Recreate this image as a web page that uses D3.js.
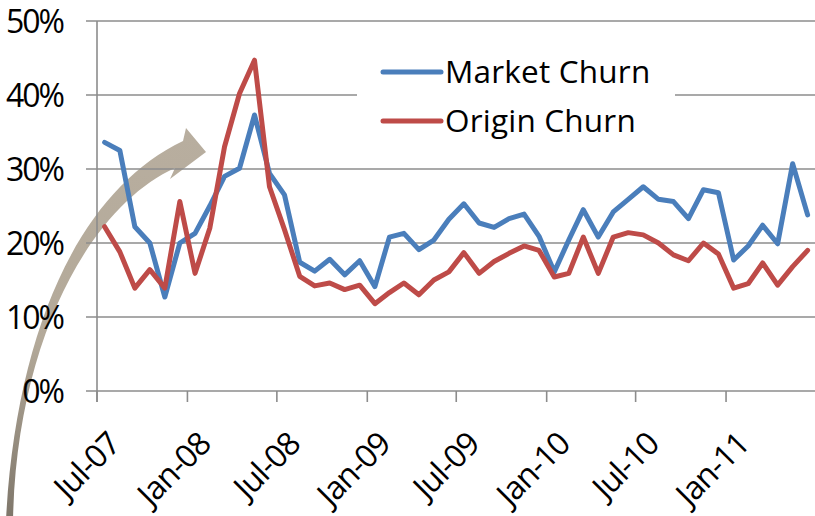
<!DOCTYPE html>
<html>
<head>
<meta charset="utf-8">
<script src="https://cdn.jsdelivr.net/npm/d3@7"></script>
<style>
  html, body { margin: 0; padding: 0; background: #fff; }
  svg { display: block; }
  text { font-family: "Open Sans", sans-serif; fill: #000; }
</style>
</head>
<body>
<svg id="chart" width="815" height="516"></svg>
<script>
// ---- Data ----
const months = [
  "2007-07","2007-08","2007-09","2007-10","2007-11","2007-12",
  "2008-01","2008-02","2008-03","2008-04","2008-05","2008-06",
  "2008-07","2008-08","2008-09","2008-10","2008-11","2008-12",
  "2009-01","2009-02","2009-03","2009-04","2009-05","2009-06",
  "2009-07","2009-08","2009-09","2009-10","2009-11","2009-12",
  "2010-01","2010-02","2010-03","2010-04","2010-05","2010-06",
  "2010-07","2010-08","2010-09","2010-10","2010-11","2010-12",
  "2011-01","2011-02","2011-03","2011-04","2011-05","2011-06"
];
const marketChurn = [33.6,32.5,22.2,20.0,12.7,20.0,21.3,25.0,29.0,30.1,37.3,29.4,
  26.5,17.4,16.2,17.8,15.7,17.6,14.1,20.8,21.3,19.1,20.4,23.2,
  25.3,22.7,22.1,23.3,23.9,20.9,16.1,20.4,24.5,20.8,24.2,25.9,
  27.6,25.9,25.6,23.3,27.2,26.8,17.7,19.6,22.4,19.9,30.7,23.8];
const originChurn = [22.2,18.8,13.9,16.4,13.9,25.6,15.9,22.0,33.0,40.2,44.7,27.6,
  21.8,15.5,14.2,14.6,13.7,14.3,11.8,13.3,14.6,13.0,15.0,16.1,
  18.7,15.9,17.5,18.6,19.6,19.0,15.4,15.9,20.8,15.9,20.8,21.4,
  21.1,20.0,18.4,17.6,20.0,18.5,13.9,14.5,17.3,14.3,16.8,19.0];
const xTickDates = ["2007-07","2008-01","2008-07","2009-01","2009-07","2010-01","2010-07","2011-01"];
const xTickLabels = ["Jul-07","Jan-08","Jul-08","Jan-09","Jul-09","Jan-10","Jul-10","Jan-11"];
const yTicks = [0, 10, 20, 30, 40, 50];
const yTickLabels = ["0%","10%","20%","30%","40%","50%"];
const seriesNames = ["Market Churn", "Origin Churn"];
const seriesColors = ["#4a7ebb", "#be4b48"];

// ---- Layout ----
const svg = d3.select("#chart");
const plot = { left: 97, right: 815, top: 21, bottom: 391 };
const parse = d3.timeParse("%Y-%m");

const x = d3.scaleTime()
  .domain([parse("2007-07"), parse("2011-07")])
  .range([plot.left, plot.right]);
const y = d3.scaleLinear().domain([0, 50]).range([plot.bottom, plot.top]);

const midMonth = s => {
  const d = parse(s);
  const n = new Date(d.getFullYear(), d.getMonth() + 1, 1);
  return (x(d) + x(n)) / 2;
};

// ---- Arrow (decoration, drawn behind) ----
const defs = svg.append("defs");
const grad = defs.append("linearGradient")
  .attr("id", "arrowGrad").attr("gradientUnits", "userSpaceOnUse")
  .attr("x1", 0).attr("y1", 130).attr("x2", 0).attr("y2", 516);
grad.append("stop").attr("offset", "0%").attr("stop-color", "#b8ae9f");
grad.append("stop").attr("offset", "55%").attr("stop-color", "#b3a999");
grad.append("stop").attr("offset", "100%").attr("stop-color", "#7f776b");

svg.append("path")
  .attr("d", "M 6,520 C 16,330 80,190 183,141 L 186,128 L 206,152 L 170,179 L 175,168 C 93,205 17,335 13,520 Z")
  .attr("fill", "url(#arrowGrad)");

// ---- Gridlines ----
svg.append("g").selectAll("line").data(yTicks).join("line")
  .attr("x1", 86).attr("x2", plot.right)
  .attr("y1", d => y(d)).attr("y2", d => y(d))
  .attr("stroke", "#8c8c8c").attr("stroke-width", 1.6);

// Y axis line
svg.append("line")
  .attr("x1", plot.left).attr("x2", plot.left)
  .attr("y1", plot.top).attr("y2", plot.bottom + 11)
  .attr("stroke", "#8c8c8c").attr("stroke-width", 1.6);

// X ticks
svg.append("g").selectAll("line").data(xTickDates).join("line")
  .attr("x1", d => x(parse(d))).attr("x2", d => x(parse(d)))
  .attr("y1", plot.bottom).attr("y2", plot.bottom + 11)
  .attr("stroke", "#8c8c8c").attr("stroke-width", 1.6);

// Y labels
svg.append("g").selectAll("text").data(yTicks).join("text")
  .attr("x", 63).attr("y", d => y(d))
  .attr("dy", "0.36em")
  .attr("text-anchor", "end")
  .style("font-size", "32px")
  .style("letter-spacing", "-2px")
  .text((d, i) => yTickLabels[i]);

// X labels
svg.append("g").selectAll("text").data(xTickDates).join("text")
  .attr("transform", d => `translate(${x(parse(d)) + 25},${plot.bottom + 55}) rotate(-45)`)
  .attr("text-anchor", "end")
  .style("font-size", "32px")
  .style("letter-spacing", "-1px")
  .text((d, i) => xTickLabels[i]);

// ---- Legend background (covers gridline) ----
svg.append("rect")
  .attr("x", 357).attr("y", 26).attr("width", 318).attr("height", 138)
  .attr("fill", "#fff");

// ---- Lines ----
const line = d3.line()
  .x((d, i) => midMonth(months[i]))
  .y(d => y(d));

[marketChurn, originChurn].forEach((s, k) => {
  svg.append("path")
    .datum(s)
    .attr("d", line)
    .attr("fill", "none")
    .attr("stroke", seriesColors[k])
    .attr("stroke-width", 5)
    .attr("stroke-linejoin", "round")
    .attr("stroke-linecap", "round");
});

// ---- Legend ----
const legendY = [72, 121];
seriesNames.forEach((name, k) => {
  svg.append("line")
    .attr("x1", 383).attr("x2", 441)
    .attr("y1", legendY[k]).attr("y2", legendY[k])
    .attr("stroke", seriesColors[k]).attr("stroke-width", 5)
    .attr("stroke-linecap", "round");
  svg.append("text")
    .attr("x", 445).attr("y", legendY[k] + 11)
    .style("font-size", "31.5px")
    .style("letter-spacing", "0.2px")
    .text(name);
});
</script>
</body>
</html>
